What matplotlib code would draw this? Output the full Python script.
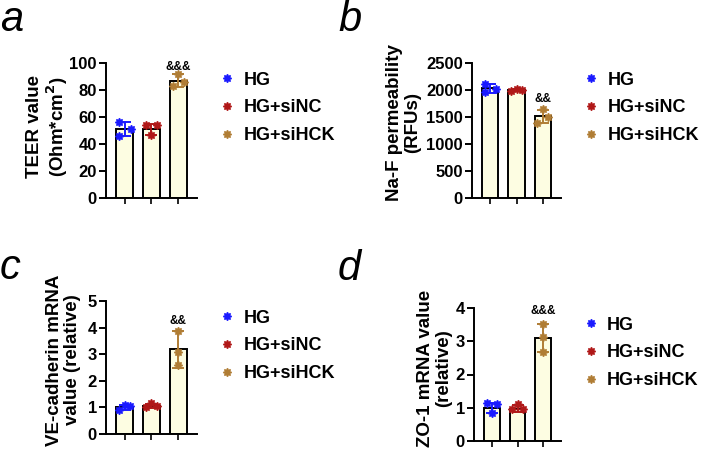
import matplotlib
matplotlib.use('Agg')
import matplotlib.pyplot as plt
from matplotlib.lines import Line2D
import numpy as np

plt.rcParams['font.family'] = ['Liberation Sans', 'DejaVu Sans']
plt.rcParams['font.weight'] = 'bold'

groups = ['HG', 'HG+siNC', 'HG+siHCK']
colors = ['#1a1aff', '#b01818', '#b07d35']

# panel a: TEER
a_mean = [51, 51, 87]
a_sd = [5, 4, 4.5]
a_pts = [[56, 51, 46], [54, 54, 47], [92, 86, 83]]
a_off = [[-0.2, 0.22, -0.2], [-0.2, 0.2, 0], [0, 0.22, -0.2]]

# panel b: Na-F permeability
b_mean = [2030, 2000, 1510]
b_sd = [85, 15, 125]
b_pts = [[2120, 2010, 1960], [1990, 2015, 1995], [1640, 1500, 1390]]
b_off = [[-0.2, 0.2, -0.2], [-0.2, 0, 0.2], [0, 0.22, -0.2]]

# panel c: VE-cadherin
c_mean = [1.0, 1.05, 3.18]
c_sd = [0.1, 0.07, 0.68]
c_pts = [[0.9, 1.1, 1.05], [1.02, 1.15, 1.05], [3.88, 3.07, 2.6]]
c_off = [[-0.2, 0, 0.2], [-0.2, 0, 0.2], [0, 0, 0]]

# panel d: ZO-1
d_mean = [1.0, 0.97, 3.1]
d_sd = [0.15, 0.1, 0.43]
d_pts = [[1.15, 1.12, 0.85], [1.1, 0.95, 0.95], [3.52, 3.12, 2.67]]
d_off = [[-0.2, 0.2, 0], [0, -0.2, 0.2], [0, 0, 0]]

fig = plt.figure(figsize=(7.02, 4.5), dpi=100)
W, H = 702, 450


def make_ax(l, r, t, b):
    return fig.add_axes([l / W, 1 - b / H, (r - l) / W, (b - t) / H])


def draw(ax, mean, sd, pts, off, ymax, step, ylabel, sig, sig_y, lab_x, lab_y, leg_x):
    x = np.arange(3)
    ax.bar(x, mean, width=0.62, color='#fdfde2', edgecolor='black', linewidth=1.4, zorder=1)
    for i in range(3):
        ax.errorbar(x[i], mean[i], yerr=sd[i], color=colors[i], capsize=4.5,
                    elinewidth=1.4, capthick=1.4, fmt='none', zorder=3)
        ax.plot(x[i] + np.array(off[i]), pts[i], linestyle='none', marker=(8, 1, 0),
                color=colors[i], markersize=6, zorder=4)
    ax.text(2, sig_y, sig, ha='center', va='center', fontsize=8.5, fontweight='bold')
    ax.set_ylim(0, ymax)
    ax.set_xlim(-0.7, 2.7)
    ax.set_yticks(np.arange(0, ymax + step / 2, step))
    ax.set_xticks(x)
    ax.set_xticklabels([])
    for s in ['top', 'right']:
        ax.spines[s].set_visible(False)
    for s in ['left', 'bottom']:
        ax.spines[s].set_linewidth(1.4)
    ax.tick_params(axis='y', labelsize=12, width=1.4, length=5, pad=1.5)
    ax.tick_params(axis='x', width=1.2, length=4.5)
    ax.set_ylabel(ylabel, fontsize=13.5, fontweight='bold', linespacing=1.1)
    ax.yaxis.set_label_coords(lab_x, lab_y)
    handles = [Line2D([], [], linestyle='none', marker=(8, 1, 0), color=c, markersize=6)
               for c in colors]
    ax.legend(handles, groups, loc='upper left', bbox_to_anchor=(leg_x, 0.99), frameon=False,
              prop={'size': 13, 'weight': 'bold'}, handletextpad=0.4,
              labelspacing=0.6, handlelength=1.0, borderaxespad=0)


ax_a = make_ax(106, 197, 63, 198)
draw(ax_a, a_mean, a_sd, a_pts, a_off, 100, 20, 'TEER value\n(Ohm*cm$^{\\mathbf{2}}$)', '&&&', 97,
     (70 - 106) / 91, (198 - 127) / 135, 1.154)
ax_b = make_ax(472, 561, 63, 198)
draw(ax_b, b_mean, b_sd, b_pts, b_off, 2500, 500, 'Na-F permeability\n(RFUs)', '&&', 1830,
     (421 - 472) / 89, (198 - 123) / 135, 1.157)
ax_c = make_ax(106, 197, 301, 434)
draw(ax_c, c_mean, c_sd, c_pts, c_off, 5, 1, 'VE-cadherin mRNA\nvalue (relative)', '&&', 4.25,
     (81 - 106) / 91, (434 - 360) / 133, 1.154)
ax_d = make_ax(474, 561, 308, 441)
draw(ax_d, d_mean, d_sd, d_pts, d_off, 4, 1, 'ZO-1 mRNA value\n(relative)', '&&&', 3.9,
     (452 - 474) / 87, (441 - 368) / 133, 1.157)

for lab, px, py in [('a', 0, 0), ('b', 338, 0), ('c', 0, 248), ('d', 338, 249)]:
    fig.text(px / W, 1 - py / H, lab, fontsize=30, fontstyle='italic', fontweight='normal',
             ha='left', va='top')

fig.savefig('out.png', dpi=100)
